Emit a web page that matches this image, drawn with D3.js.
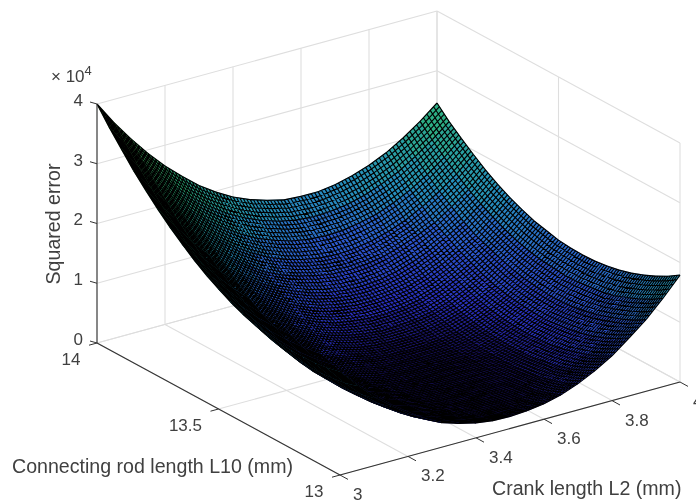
<!DOCTYPE html>
<html>
<head>
<meta charset="utf-8">
<script src="https://cdnjs.cloudflare.com/ajax/libs/d3/7.8.5/d3.min.js"></script>
<style>
  html, body { margin: 0; padding: 0; background: #fff; overflow: hidden; }
  svg { display: block; filter: blur(0.45px); }
  text { font-family: "Liberation Sans", Arial, sans-serif; fill: #404040; }
</style>
</head>
<body>
<script>
// axis ticks
const l2Ticks = [3, 3.2, 3.4, 3.6, 3.8, 4];
const l10Ticks = [13, 13.5, 14];
const zTicks = [0, 1, 2, 3, 4];

// sample nodes of the surface
const l2Nodes = [3, 3.05, 3.1, 3.15, 3.2, 3.25, 3.3, 3.35, 3.4, 3.45, 3.5, 3.55, 3.6, 3.65, 3.7, 3.75, 3.8, 3.85, 3.9, 3.95, 4];
const l10Nodes = [14, 13.95, 13.9, 13.85, 13.8, 13.75, 13.7, 13.65, 13.6, 13.55, 13.5, 13.45, 13.4, 13.35, 13.3, 13.25, 13.2, 13.15, 13.1, 13.05, 13];

// squared error (x 10^4), one row per l10Nodes value
const zRows = [
  [4.00,3.61,3.26,2.94,2.65,2.40,2.17,1.98,1.82,1.70,1.61,1.54,1.52,1.52,1.56,1.63,1.73,1.86,2.03,2.23,2.46],
  [3.72,3.34,2.99,2.68,2.39,2.14,1.92,1.73,1.58,1.46,1.37,1.31,1.29,1.30,1.34,1.41,1.52,1.65,1.83,2.03,2.26],
  [3.47,3.09,2.74,2.43,2.15,1.90,1.69,1.50,1.35,1.24,1.15,1.10,1.08,1.09,1.14,1.21,1.32,1.46,1.64,1.85,2.09],
  [3.22,2.85,2.51,2.20,1.92,1.68,1.47,1.29,1.14,1.03,0.95,0.90,0.88,0.90,0.95,1.03,1.14,1.29,1.47,1.68,1.93],
  [3.00,2.63,2.29,1.99,1.71,1.48,1.27,1.09,0.96,0.86,0.79,0.74,0.73,0.75,0.80,0.89,1.00,1.13,1.32,1.53,1.78],
  [2.79,2.43,2.09,1.79,1.52,1.29,1.09,0.93,0.80,0.69,0.62,0.58,0.57,0.59,0.65,0.74,0.86,1.01,1.18,1.40,1.65],
  [2.60,2.24,1.91,1.61,1.35,1.12,0.94,0.77,0.64,0.54,0.48,0.44,0.44,0.47,0.52,0.61,0.73,0.89,1.06,1.29,1.54],
  [2.43,2.07,1.74,1.45,1.19,0.98,0.79,0.63,0.50,0.41,0.36,0.33,0.33,0.36,0.41,0.50,0.63,0.79,0.98,1.19,1.45],
  [2.27,1.92,1.60,1.31,1.05,0.85,0.66,0.51,0.39,0.31,0.26,0.23,0.24,0.27,0.32,0.41,0.54,0.70,0.90,1.11,1.37],
  [2.13,1.78,1.46,1.18,0.95,0.73,0.55,0.40,0.30,0.22,0.18,0.17,0.17,0.20,0.26,0.34,0.47,0.63,0.83,1.05,1.32],
  [2.01,1.66,1.35,1.07,0.84,0.63,0.45,0.32,0.22,0.16,0.13,0.12,0.12,0.15,0.20,0.29,0.42,0.58,0.78,1.01,1.27],
  [1.90,1.56,1.25,0.99,0.75,0.55,0.38,0.26,0.17,0.12,0.10,0.09,0.10,0.12,0.17,0.25,0.38,0.55,0.75,0.99,1.25],
  [1.81,1.48,1.17,0.92,0.68,0.48,0.32,0.20,0.13,0.10,0.08,0.08,0.08,0.10,0.15,0.23,0.36,0.53,0.73,0.97,1.24],
  [1.74,1.41,1.11,0.86,0.63,0.43,0.28,0.17,0.11,0.08,0.07,0.07,0.08,0.10,0.14,0.22,0.35,0.52,0.73,0.98,1.25],
  [1.69,1.36,1.06,0.82,0.59,0.40,0.26,0.16,0.10,0.08,0.07,0.07,0.08,0.10,0.14,0.22,0.36,0.54,0.75,1.00,1.28],
  [1.65,1.33,1.03,0.79,0.57,0.39,0.25,0.15,0.10,0.08,0.07,0.07,0.08,0.10,0.15,0.24,0.38,0.57,0.79,1.03,1.32],
  [1.63,1.31,1.02,0.78,0.57,0.39,0.25,0.16,0.11,0.08,0.08,0.08,0.09,0.11,0.17,0.28,0.42,0.61,0.84,1.08,1.38],
  [1.63,1.31,1.03,0.79,0.58,0.40,0.27,0.17,0.12,0.10,0.09,0.09,0.10,0.14,0.21,0.32,0.48,0.67,0.91,1.16,1.46],
  [1.64,1.33,1.05,0.82,0.61,0.43,0.30,0.20,0.15,0.12,0.11,0.11,0.13,0.18,0.27,0.39,0.55,0.75,0.99,1.25,1.55],
  [1.67,1.36,1.09,0.86,0.65,0.48,0.34,0.25,0.19,0.15,0.14,0.15,0.19,0.25,0.34,0.48,0.64,0.85,1.08,1.35,1.66],
  [1.72,1.42,1.14,0.92,0.71,0.55,0.41,0.32,0.25,0.21,0.20,0.22,0.26,0.33,0.44,0.58,0.75,0.97,1.20,1.48,1.79]
];

// colour ramp, from the dots on the surface
const colourStops = [0, 0.12, 0.4, 1, 1.5, 2.4, 4];
const colourRange = ["#0c0830", "#160f58", "#2a30c0", "#2c5cd0", "#2690bc", "#2eb47a", "#78c050"];

const width = 696;
const height = 501;

// one unit along each data axis, in screen pixels (orthographic view)
const l2Scale = d3.scaleLinear().domain([3, 4]).range([0, 1]);
const l10Scale = d3.scaleLinear().domain([14, 13]).range([0, 1]);
const zScale = d3.scaleLinear().domain([0, 4]).range([0, 239]);
const colour = d3.scaleLinear().domain(colourStops).range(colourRange);

function project(l2, l10, z) {
  const t = l2Scale(l2), s = l10Scale(l10);
  return [97 + 340 * t + 243 * s, 343 - 93 * t + 132 * s - zScale(z)];
}

const svg = d3.select("body").append("svg")
  .attr("width", width)
  .attr("height", height)
  .attr("viewBox", `0 0 ${width} ${height}`);

const gridColor = "#dedede";
const axisColor = "#333";

function seg(g, a, b, color, w) {
  g.append("line")
    .attr("x1", a[0]).attr("y1", a[1])
    .attr("x2", b[0]).attr("y2", b[1])
    .attr("stroke", color)
    .attr("stroke-width", w);
}

// back walls + floor grid
const grid = svg.append("g");
zTicks.forEach(z => {
  seg(grid, project(3, 14, z), project(4, 14, z), gridColor, 1.1);
  seg(grid, project(4, 14, z), project(4, 13, z), gridColor, 1.1);
});
l2Ticks.forEach(v => {
  seg(grid, project(v, 14, 0), project(v, 14, 4), gridColor, 1.1);
  seg(grid, project(v, 14, 0), project(v, 13, 0), gridColor, 1.1);
});
l10Ticks.forEach(v => {
  seg(grid, project(4, v, 0), project(4, v, 4), gridColor, 1.1);
  seg(grid, project(3, v, 0), project(4, v, 0), gridColor, 1.1);
});

// surface, painted back to front; the hatching inside a cell is only the look of the fine mesh
const hatch = 5;
const surface = svg.append("g");
const lerp = (a, b, k) => [a[0] + (b[0] - a[0]) * k, a[1] + (b[1] - a[1]) * k];

for (let j = 0; j < l10Nodes.length - 1; j++) {
  for (let i = l2Nodes.length - 2; i >= 0; i--) {
    const p00 = project(l2Nodes[i], l10Nodes[j], zRows[j][i]);
    const p10 = project(l2Nodes[i + 1], l10Nodes[j], zRows[j][i + 1]);
    const p11 = project(l2Nodes[i + 1], l10Nodes[j + 1], zRows[j + 1][i + 1]);
    const p01 = project(l2Nodes[i], l10Nodes[j + 1], zRows[j + 1][i]);
    const zMean = d3.mean([zRows[j][i], zRows[j][i + 1], zRows[j + 1][i + 1], zRows[j + 1][i]]);

    const fill = d3.path();
    fill.moveTo(...p00); fill.lineTo(...p10); fill.lineTo(...p11); fill.lineTo(...p01); fill.closePath();
    surface.append("path")
      .attr("d", fill.toString())
      .attr("fill", colour(zMean))
      .attr("stroke", colour(zMean))
      .attr("stroke-width", 0.6);

    const lines = d3.path();
    for (let k = 0; k <= hatch; k++) {
      const u = k / hatch;
      lines.moveTo(...lerp(p00, p10, u)); lines.lineTo(...lerp(p01, p11, u));
      lines.moveTo(...lerp(p00, p01, u)); lines.lineTo(...lerp(p10, p11, u));
    }
    surface.append("path")
      .attr("d", lines.toString())
      .attr("fill", "none")
      .attr("stroke", "#000")
      .attr("stroke-width", 1.15);
  }
}

// axes
const axes = svg.append("g");
seg(axes, project(3, 14, 0), project(3, 14, 4), axisColor, 1.1);
seg(axes, project(3, 14, 0), project(3, 13, 0), axisColor, 1.1);
seg(axes, project(3, 13, 0), project(4, 13, 0), axisColor, 1.1);

zTicks.forEach(z => {
  const p = project(3, 14, z);
  seg(axes, p, [p[0] - 7, p[1] - 2], axisColor, 1);
  axes.append("text").attr("x", p[0] - 14).attr("y", p[1] - 2.5)
    .attr("text-anchor", "end").attr("dominant-baseline", "middle")
    .attr("font-size", 17).text(z);
});
l2Ticks.forEach(v => {
  const p = project(v, 13, 0);
  seg(axes, p, [p[0] + 8, p[1] + 4.4], axisColor, 1);
  axes.append("text").attr("x", p[0] + 13).attr("y", p[1] + 20.5)
    .attr("dominant-baseline", "middle")
    .attr("font-size", 17).text(v);
});
l10Ticks.forEach(v => {
  const p = project(3, v, 0);
  seg(axes, p, [p[0] - 8, p[1] + 2.2], axisColor, 1);
  axes.append("text").attr("x", p[0] - 16.5).attr("y", p[1] + 17.5)
    .attr("text-anchor", "end").attr("dominant-baseline", "middle")
    .attr("font-size", 17).text(v);
});

// labels
axes.append("text").attr("x", 12).attr("y", 473).attr("font-size", 19.6)
  .text("Connecting rod length L10 (mm)");
axes.append("text").attr("x", 492).attr("y", 495).attr("font-size", 19.6)
  .text("Crank length L2 (mm)");
axes.append("text").attr("transform", "translate(60,224) rotate(-90)")
  .attr("text-anchor", "middle").attr("font-size", 19.6)
  .text("Squared error");

const expo = axes.append("text").attr("x", 51).attr("y", 82).attr("font-size", 17);
expo.append("tspan").text("\u00d7 10");
expo.append("tspan").attr("dy", -7).attr("font-size", 13).text("4");
</script>
</body>
</html>
